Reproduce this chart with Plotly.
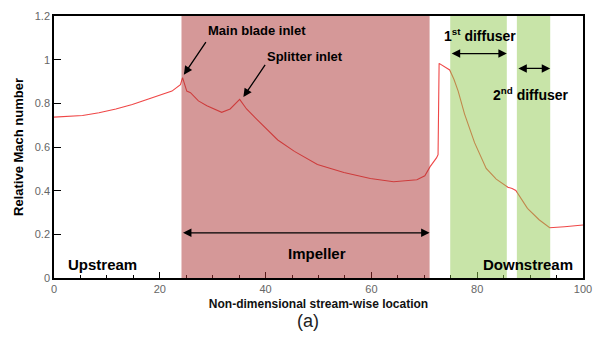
import plotly.graph_objects as go

# Stream-wise location (non-dimensional) and relative Mach number
location = [0, 2.5, 5.4, 8.5, 11.7, 14.8, 17.9, 20.0, 22.3, 23.9, 24.3, 25.1, 25.8,
            27.3, 28.9, 31.7, 33.3, 35.1, 36.4, 38.25, 39.8, 42.3, 45.45, 49.8,
            54.8, 59.8, 64.2, 68.6, 70.1, 71.1, 72.3, 72.6, 72.8, 74.8, 75.6,
            76.4, 77.6, 79.5, 81.7, 83.6, 85.8, 86.6, 87.3, 89.5, 91.7, 93.7,
            96.5, 100]
mach = [0.737, 0.739, 0.744, 0.757, 0.774, 0.795, 0.819, 0.836, 0.856, 0.886,
        0.918, 0.856, 0.849, 0.811, 0.789, 0.759, 0.774, 0.818, 0.774, 0.729,
        0.692, 0.632, 0.580, 0.520, 0.483, 0.456, 0.441, 0.450, 0.468, 0.510,
        0.550, 0.565, 0.983, 0.953, 0.910, 0.856, 0.752, 0.620, 0.502, 0.453,
        0.416, 0.410, 0.401, 0.319, 0.267, 0.230, 0.235, 0.243]

# Component zones along the flow path
impeller_zone = [24.1, 71.0]
diffuser1_zone = [74.9, 85.6]
diffuser2_zone = [87.5, 93.8]

FONT = "Liberation Sans, Arial, sans-serif"

fig = go.Figure()
fig.add_trace(go.Scatter(x=location, y=mach, mode="lines",
                         line=dict(color="rgb(239,71,71)", width=1.1),
                         showlegend=False, hoverinfo="skip"))

# Translucent zone overlays (drawn over the curve so it takes their tint)
for zone, col in [(impeller_zone, "rgb(171,49,49)"),
                  (diffuser1_zone, "rgb(145,201,81)"),
                  (diffuser2_zone, "rgb(145,201,81)")]:
    fig.add_shape(type="rect", xref="x", yref="y", x0=zone[0], x1=zone[1],
                  y0=0, y1=1.2, fillcolor=col, opacity=0.5,
                  line=dict(width=0), layer="above")

def label(x, y, text, size=15, xanchor="left"):
    fig.add_annotation(x=x, y=y, xref="x", yref="y", text=f"<b>{text}</b>",
                       showarrow=False, xanchor=xanchor, yanchor="middle",
                       font=dict(family=FONT, size=size, color="black"))

def pointer(x, y, ax, ay):
    fig.add_annotation(x=x, y=y, ax=ax, ay=ay, xref="x", yref="y",
                       axref="x", ayref="y", text="", showarrow=True,
                       arrowhead=2, arrowsize=1.3, arrowwidth=1.3,
                       arrowcolor="black")

def span(x0, x1, y):
    fig.add_annotation(x=x1, y=y, ax=x0, ay=y, xref="x", yref="y",
                       axref="x", ayref="y", text="", showarrow=True,
                       arrowhead=2, startarrowhead=2, arrowside="end+start",
                       arrowsize=1.3, startarrowsize=1.3, arrowwidth=1.3,
                       arrowcolor="black")

label(28.8, 1.132, "Main blade inlet", size=13)
pointer(24.55, 0.931, 28.9, 1.087)
label(39.9, 1.014, "Splitter inlet", size=13)
pointer(35.8, 0.829, 40.1, 0.983)

span(impeller_zone[0], impeller_zone[1], 0.207)
label(49.8, 0.113, "Impeller", xanchor="center")
label(2.3, 0.061, "Upstream")
label(80.8, 0.061, "Downstream")

label(73.3, 1.114, "1<sup>st</sup> diffuser", size=14)
span(diffuser1_zone[0], diffuser1_zone[1], 1.028)
label(82.6, 0.841, "2<sup>nd</sup> diffuser", size=14)
span(diffuser2_zone[0], diffuser2_zone[1], 0.96)

fig.add_annotation(x=0.48, y=-0.165, xref="paper", yref="paper", text="(a)",
                   showarrow=False, xanchor="center", yanchor="middle",
                   font=dict(family=FONT, size=18, color="#222"))

axis_common = dict(showline=True, linecolor="black", linewidth=1.5,
                   mirror=True, ticks="inside", tickcolor="black",
                   showgrid=False, zeroline=False,
                   tickfont=dict(family=FONT, size=11, color="#666"))

fig.update_xaxes(range=[0, 100], tick0=0, dtick=20, ticklen=6,
                 minor=dict(ticks="inside", dtick=5, ticklen=3,
                            tickcolor="black"),
                 title=dict(text="<b>Non-dimensional stream-wise location</b>",
                            font=dict(family=FONT, size=12, color="#111"),
                            standoff=6),
                 **axis_common)
fig.update_yaxes(range=[0, 1.2], tick0=0, dtick=0.2, ticklen=7,
                 title=dict(text="<b>Relative Mach number</b>",
                            font=dict(family=FONT, size=13, color="black"),
                            standoff=8),
                 **axis_common)

fig.update_layout(width=602, height=338,
                  margin=dict(l=54, r=14, t=10, b=60),
                  plot_bgcolor="white", paper_bgcolor="white")

fig.write_html("out.html")
